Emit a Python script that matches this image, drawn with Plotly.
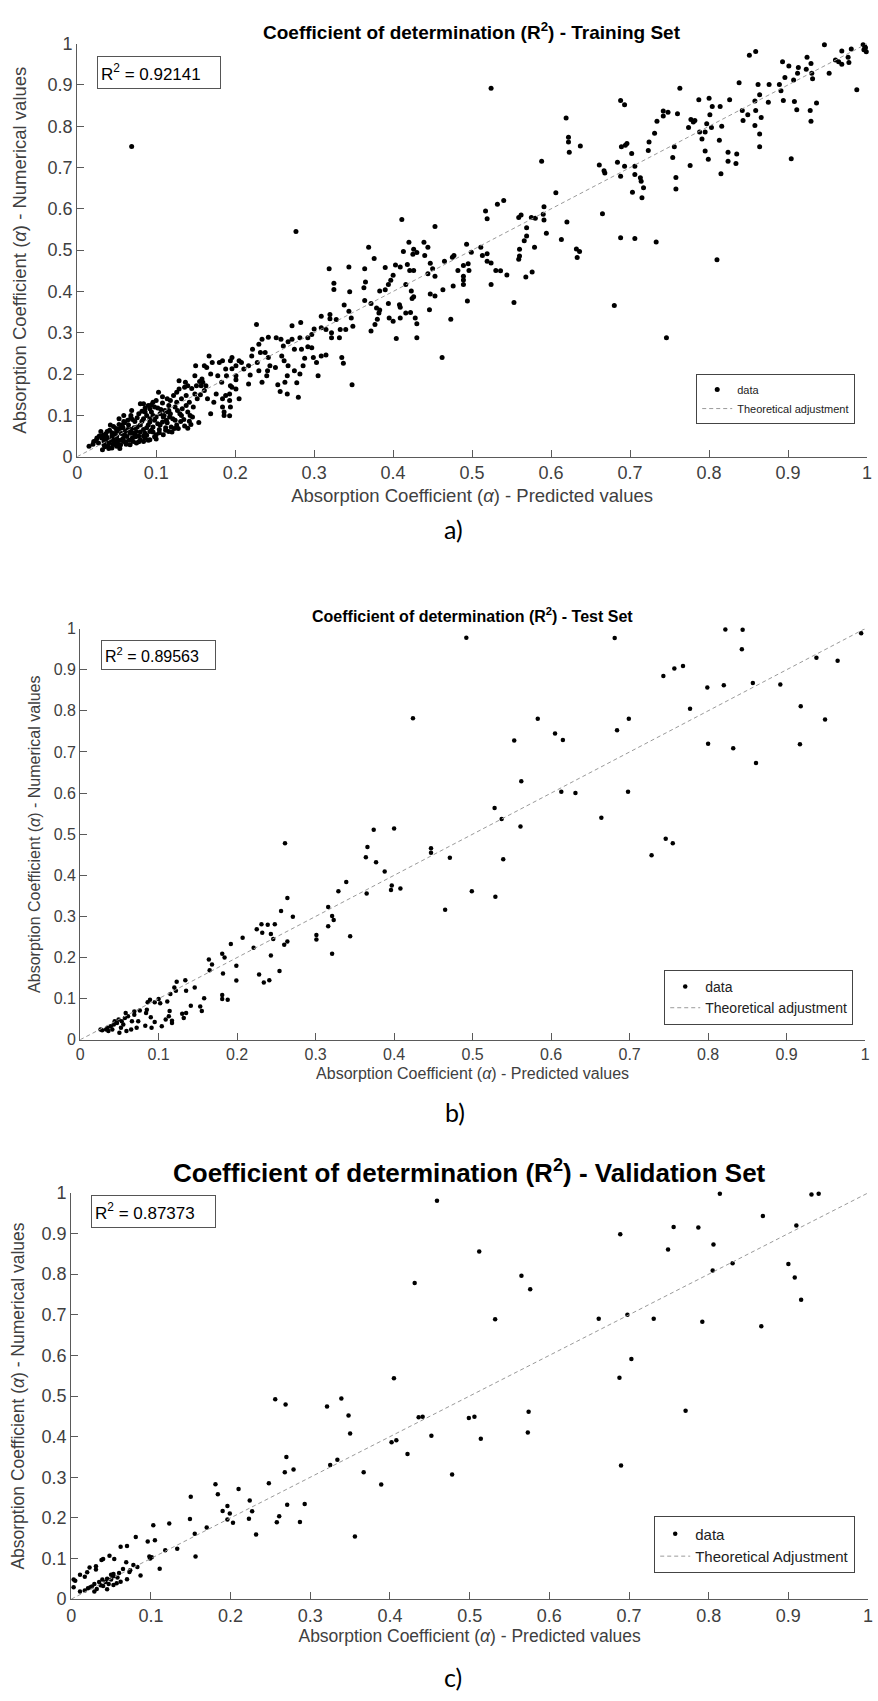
import plotly.graph_objects as go

# ---------------- data (predicted, numerical) ----------------
train_pairs = [
    (0.069,0.751),(0.277,0.545),(0.411,0.574),(0.453,0.557),(0.369,0.507),(0.420,0.519),(0.439,0.519),(0.444,0.507),
    (0.413,0.497),(0.426,0.502),(0.430,0.494),(0.425,0.490),(0.440,0.487),(0.376,0.480),(0.447,0.468),(0.319,0.455),
    (0.344,0.459),(0.364,0.455),(0.390,0.458),(0.403,0.464),(0.409,0.459),(0.418,0.465),(0.421,0.451),(0.426,0.451),
    (0.450,0.455),(0.444,0.443),(0.453,0.437),(0.400,0.439),(0.397,0.427),(0.394,0.417),(0.416,0.417),(0.365,0.423),
    (0.325,0.420),(0.325,0.405),(0.363,0.409),(0.345,0.399),(0.383,0.401),(0.390,0.404),(0.423,0.401),(0.426,0.387),
    (0.424,0.383),(0.447,0.394),(0.453,0.389),(0.364,0.378),(0.372,0.371),(0.338,0.367),(0.394,0.371),(0.408,0.368),
    (0.524,0.892),(0.851,0.972),(0.859,0.981),(0.946,0.997),(0.995,0.997),(0.998,0.990),(0.996,0.985),(0.999,0.980),
    (0.997,0.993),(0.980,0.987),(0.968,0.982),(0.976,0.967),(0.977,0.954),(0.968,0.950),(0.960,0.960),(0.964,0.956),
    (0.952,0.928),(0.987,0.888),(0.893,0.956),(0.901,0.946),(0.913,0.942),(0.924,0.967),(0.929,0.952),(0.923,0.938),
    (0.912,0.928),(0.930,0.928),(0.931,0.915),(0.907,0.912),(0.896,0.918),(0.889,0.901),(0.876,0.901),(0.862,0.901),
    (0.838,0.905),(0.891,0.886),(0.864,0.876),(0.858,0.861),(0.875,0.858),(0.894,0.862),(0.908,0.860),(0.936,0.856),
    (0.911,0.840),(0.928,0.838),(0.929,0.812),(0.859,0.838),(0.849,0.828),(0.842,0.838),(0.843,0.814),(0.866,0.821),
    (0.858,0.802),(0.864,0.781),(0.864,0.750),(0.904,0.721),(0.826,0.864),(0.814,0.848),(0.804,0.848),(0.800,0.868),
    (0.787,0.864),(0.763,0.892),(0.816,0.800),(0.801,0.828),(0.797,0.806),(0.782,0.814),(0.780,0.810),(0.777,0.816),
    (0.774,0.797),(0.788,0.786),(0.795,0.786),(0.791,0.769),(0.803,0.797),(0.813,0.766),(0.795,0.740),(0.799,0.720),
    (0.824,0.737),(0.835,0.733),(0.824,0.715),(0.834,0.710),(0.815,0.685),(0.776,0.705),(0.760,0.830),(0.748,0.834),
    (0.742,0.837),(0.742,0.825),(0.734,0.812),(0.731,0.783),(0.724,0.762),(0.723,0.741),(0.756,0.750),(0.754,0.724),
    (0.758,0.676),(0.758,0.648),(0.688,0.862),(0.693,0.852),(0.696,0.758),(0.694,0.754),(0.689,0.750),(0.702,0.734),
    (0.684,0.713),(0.693,0.703),(0.706,0.703),(0.688,0.679),(0.706,0.683),(0.713,0.675),(0.714,0.667),(0.717,0.651),
    (0.703,0.640),(0.715,0.627),(0.661,0.706),(0.667,0.692),(0.668,0.687),(0.619,0.820),(0.622,0.773),(0.622,0.762),
    (0.623,0.737),(0.637,0.752),(0.588,0.715),(0.606,0.639),(0.665,0.588),(0.688,0.530),(0.706,0.528),(0.733,0.520),
    (0.810,0.477),(0.517,0.595),(0.519,0.576),(0.532,0.611),(0.540,0.620),(0.559,0.579),(0.562,0.585),(0.575,0.579),
    (0.580,0.577),(0.591,0.605),(0.590,0.587),(0.591,0.573),(0.620,0.568),(0.569,0.554),(0.594,0.541),(0.569,0.534),
    (0.566,0.523),(0.560,0.502),(0.560,0.486),(0.559,0.478),(0.579,0.507),(0.613,0.526),(0.632,0.503),(0.636,0.497),
    (0.633,0.482),(0.576,0.447),(0.568,0.435),(0.553,0.373),(0.680,0.366),(0.493,0.514),(0.499,0.495),(0.511,0.507),
    (0.513,0.487),(0.519,0.491),(0.519,0.473),(0.524,0.469),(0.475,0.483),(0.477,0.487),(0.465,0.473),(0.489,0.463),
    (0.495,0.467),(0.482,0.451),(0.496,0.451),(0.530,0.451),(0.536,0.450),(0.544,0.440),(0.489,0.437),(0.489,0.428),
    (0.489,0.417),(0.476,0.413),(0.463,0.404),(0.524,0.417),(0.494,0.377),(0.473,0.333),(0.746,0.288),(0.462,0.240),
    (0.227,0.320),(0.446,0.356),(0.344,0.352),(0.347,0.336),(0.379,0.360),(0.382,0.348),(0.383,0.355),(0.380,0.333),
    (0.377,0.320),(0.372,0.304),(0.395,0.336),(0.400,0.328),(0.409,0.362),(0.409,0.336),(0.416,0.348),(0.422,0.349),
    (0.428,0.336),(0.430,0.322),(0.430,0.288),(0.404,0.286),(0.348,0.174),(0.335,0.240),(0.337,0.226),(0.309,0.340),
    (0.320,0.344),(0.320,0.334),(0.309,0.312),(0.315,0.308),(0.322,0.300),(0.322,0.288),(0.332,0.288),(0.328,0.332),
    (0.333,0.308),(0.340,0.308),(0.349,0.316),(0.300,0.309),(0.297,0.296),(0.292,0.288),(0.283,0.325),(0.272,0.317),
    (0.282,0.288),(0.272,0.284),(0.275,0.260),(0.284,0.260),(0.292,0.266),(0.297,0.264),(0.299,0.240),(0.303,0.228),
    (0.309,0.244),(0.315,0.246),(0.305,0.196),(0.288,0.238),(0.286,0.220),(0.282,0.200),(0.275,0.208),(0.280,0.144),
    (0.278,0.179),(0.267,0.220),(0.266,0.196),(0.263,0.180),(0.266,0.152),(0.257,0.158),(0.254,0.174),(0.251,0.216),
    (0.259,0.244),(0.262,0.232),(0.261,0.268),(0.267,0.278),(0.258,0.284),(0.252,0.288),(0.242,0.289),(0.234,0.284),
    (0.230,0.272),(0.232,0.252),(0.238,0.252),(0.242,0.240),(0.244,0.220),(0.241,0.208),(0.240,0.196),(0.234,0.180),
    (0.230,0.208),(0.228,0.228),(0.222,0.260),(0.221,0.244),(0.219,0.198),(0.217,0.220),(0.217,0.176),(0.211,0.212),
    (0.205,0.232),(0.201,0.220),(0.196,0.240),(0.196,0.213),(0.208,0.228),(0.194,0.232),(0.201,0.196),(0.201,0.186),
    (0.201,0.164),(0.196,0.168),(0.205,0.140),(0.194,0.172),(0.193,0.152),(0.193,0.136),(0.194,0.120),(0.186,0.100),
    (0.193,0.099),(0.186,0.108),(0.184,0.120),(0.184,0.140),(0.188,0.148),(0.183,0.180),(0.178,0.196),(0.171,0.228),
    (0.169,0.200),(0.176,0.152),(0.173,0.132),(0.169,0.104),(0.165,0.140),(0.163,0.172),(0.164,0.216),(0.161,0.220),
    (0.159,0.180),(0.161,0.160),(0.158,0.188),(0.150,0.220),(0.151,0.172),(0.149,0.152),(0.154,0.083),(0.142,0.132),
    (0.146,0.096),(0.142,0.086),(0.140,0.069),(0.137,0.180),(0.136,0.168),(0.138,0.148),(0.140,0.108),(0.130,0.104),
    (0.129,0.184),(0.126,0.156),(0.126,0.132),(0.116,0.124),(0.115,0.108),(0.124,0.088),(0.119,0.072),(0.116,0.061),
    (0.113,0.088),(0.109,0.096),(0.105,0.077),(0.103,0.156),(0.100,0.136),(0.098,0.120),(0.096,0.132),(0.092,0.116),
    (0.090,0.124),(0.084,0.128),(0.080,0.128),(0.092,0.092),(0.096,0.072),(0.092,0.061),(0.100,0.053),(0.086,0.057),
    (0.080,0.077),(0.075,0.061),(0.071,0.037),(0.069,0.112),(0.068,0.100),(0.065,0.077),(0.063,0.049),(0.059,0.100),
    (0.057,0.077),(0.053,0.092),(0.050,0.061),(0.048,0.037),(0.042,0.077),(0.038,0.061),(0.034,0.029),(0.032,0.017),
    (0.025,0.045),(0.021,0.037),(0.015,0.025),(0.030,0.061),(0.038,0.045),(0.044,0.021),(0.050,0.025),(0.059,0.037),
    (0.067,0.029),(0.075,0.033),(0.084,0.037),(0.092,0.041),(0.100,0.043),(0.109,0.053),(0.055,0.029),(0.034,0.037),
    (0.040,0.033),(0.046,0.045),(0.050,0.049),(0.061,0.061),(0.067,0.057),(0.073,0.053),(0.080,0.041),(0.086,0.045),
    (0.055,0.069),(0.059,0.085),(0.046,0.073),(0.073,0.085),(0.084,0.092),(0.090,0.077),(0.098,0.088),(0.105,0.104),
    (0.111,0.112),(0.117,0.096),(0.126,0.077),(0.131,0.085),(0.133,0.116),(0.122,0.148),(0.129,0.164),(0.140,0.172),
    (0.149,0.196),(0.155,0.182),(0.157,0.172),(0.167,0.244),(0.180,0.228),(0.184,0.232),(0.188,0.212),(0.189,0.196),
    (0.028,0.050),(0.036,0.055),(0.044,0.058),(0.052,0.066),(0.058,0.070),(0.064,0.088),(0.070,0.090),(0.078,0.104),
    (0.082,0.110),(0.088,0.100),(0.094,0.108),(0.102,0.118),(0.108,0.130),(0.114,0.140),(0.040,0.020),(0.048,0.030),
    (0.056,0.040),(0.062,0.030),(0.070,0.046),(0.078,0.050),(0.088,0.052),(0.096,0.060),(0.104,0.066),(0.112,0.070),
    (0.120,0.060),(0.128,0.068),(0.136,0.074),(0.144,0.078),(0.036,0.042),(0.044,0.050),(0.052,0.040),(0.060,0.052),
    (0.068,0.066),(0.076,0.072),(0.084,0.066),(0.092,0.084),(0.100,0.096),(0.108,0.084),(0.116,0.112),(0.124,0.120),
    (0.020,0.030),(0.024,0.040),(0.027,0.033),(0.031,0.045),(0.033,0.052),(0.035,0.024),(0.037,0.049),(0.039,0.026),
    (0.041,0.064),(0.043,0.040),(0.045,0.030),(0.047,0.055),(0.049,0.068),(0.051,0.034),(0.053,0.078),(0.054,0.020),
    (0.056,0.056),(0.058,0.044),(0.060,0.082),(0.062,0.036),(0.064,0.066),(0.066,0.040),(0.068,0.094),(0.070,0.058),
    (0.072,0.070),(0.074,0.048),(0.076,0.094),(0.078,0.036),(0.080,0.060),(0.082,0.086),(0.084,0.050),(0.086,0.108),
    (0.088,0.070),(0.090,0.040),(0.094,0.064),(0.096,0.100),(0.098,0.048),(0.102,0.080),(0.104,0.058),(0.106,0.114),
    (0.110,0.100),(0.112,0.064),(0.114,0.082),(0.118,0.104),(0.121,0.092),(0.123,0.068),(0.127,0.112),(0.132,0.100),
    (0.135,0.090),(0.138,0.124),(0.143,0.100),(0.147,0.120),(0.152,0.140),(0.156,0.150),(0.145,0.165),(0.132,0.140),
    (0.118,0.136),(0.108,0.145),(0.094,0.126),(0.086,0.118),
]

test_pairs = [
    (0.261,0.478),(0.424,0.782),(0.374,0.511),(0.400,0.514),(0.366,0.469),(0.364,0.444),(0.447,0.466),(0.447,0.455),
    (0.492,0.978),(0.681,0.977),(0.822,0.998),(0.844,0.997),(0.843,0.950),(0.995,0.989),(0.938,0.929),(0.965,0.922),
    (0.743,0.885),(0.757,0.903),(0.768,0.909),(0.799,0.857),(0.820,0.862),(0.857,0.868),(0.892,0.864),(0.777,0.805),
    (0.918,0.811),(0.949,0.779),(0.583,0.781),(0.699,0.781),(0.684,0.753),(0.553,0.728),(0.605,0.745),(0.615,0.729),
    (0.800,0.720),(0.832,0.709),(0.917,0.719),(0.861,0.673),(0.562,0.629),(0.613,0.603),(0.631,0.600),(0.698,0.603),
    (0.528,0.564),(0.537,0.537),(0.561,0.519),(0.664,0.540),(0.746,0.489),(0.755,0.478),(0.728,0.449),(0.471,0.443),
    (0.539,0.439),(0.499,0.361),(0.529,0.348),(0.465,0.316),
    (0.377,0.432),(0.388,0.409),(0.339,0.384),(0.329,0.361),(0.365,0.356),(0.397,0.375),(0.396,0.364),(0.408,0.368),
    (0.316,0.323),(0.321,0.301),(0.323,0.291),(0.316,0.276),(0.301,0.255),(0.301,0.244),(0.344,0.252),(0.321,0.209),
    (0.264,0.345),(0.256,0.313),(0.271,0.299),(0.231,0.281),(0.239,0.280),(0.248,0.281),(0.225,0.269),(0.243,0.257),
    (0.232,0.260),(0.246,0.245),(0.207,0.248),(0.221,0.224),(0.192,0.233),(0.264,0.239),(0.260,0.231),(0.243,0.205),
    (0.164,0.195),(0.181,0.209),(0.184,0.200),(0.168,0.183),(0.199,0.180),(0.165,0.169),(0.182,0.161),(0.228,0.159),
    (0.254,0.167),(0.241,0.145),(0.234,0.139),(0.199,0.144),(0.134,0.145),(0.123,0.141),(0.135,0.119),(0.146,0.127),
    (0.120,0.127),(0.122,0.119),(0.115,0.111),(0.158,0.101),(0.181,0.109),(0.181,0.099),(0.188,0.097),(0.100,0.099),
    (0.111,0.093),(0.089,0.097),(0.086,0.091),(0.095,0.091),(0.102,0.089),(0.141,0.083),(0.153,0.081),(0.155,0.070),
    (0.114,0.070),(0.130,0.063),(0.135,0.065),(0.132,0.053),(0.113,0.057),(0.109,0.049),(0.117,0.046),(0.117,0.041),
    (0.104,0.033),(0.095,0.043),(0.090,0.055),(0.091,0.029),(0.085,0.073),(0.084,0.065),(0.076,0.071),(0.069,0.069),
    (0.069,0.061),(0.074,0.045),(0.072,0.029),(0.083,0.034),(0.058,0.065),(0.061,0.057),(0.057,0.053),(0.053,0.045),
    (0.049,0.049),(0.047,0.041),(0.052,0.029),(0.059,0.021),(0.050,0.017),(0.065,0.025),(0.043,0.037),(0.039,0.033),
    (0.035,0.029),(0.036,0.021),(0.044,0.045),(0.041,0.025),(0.033,0.025),(0.028,0.023),(0.026,0.025),(0.055,0.037),
    (0.066,0.045),
]

val_pairs = [
    (0.459,0.981),(0.431,0.778),(0.405,0.544),(0.256,0.492),(0.269,0.479),(0.321,0.474),(0.339,0.494),(0.348,0.452),
    (0.436,0.448),(0.441,0.449),(0.814,0.998),(0.929,0.996),(0.938,0.998),(0.868,0.943),(0.910,0.920),(0.756,0.916),
    (0.787,0.915),(0.689,0.898),(0.512,0.856),(0.806,0.873),(0.749,0.861),(0.830,0.827),(0.805,0.809),(0.900,0.825),
    (0.908,0.792),(0.916,0.737),(0.565,0.796),(0.576,0.763),(0.532,0.689),(0.662,0.690),(0.698,0.700),(0.731,0.690),
    (0.792,0.683),(0.866,0.672),(0.703,0.591),(0.688,0.545),(0.574,0.461),(0.771,0.464),(0.499,0.446),(0.506,0.449),
    (0.573,0.410),(0.514,0.395),(0.478,0.307),(0.690,0.329),
    (0.350,0.408),(0.452,0.402),(0.402,0.386),(0.408,0.391),(0.422,0.357),(0.367,0.312),(0.389,0.282),(0.334,0.343),
    (0.325,0.330),(0.356,0.154),(0.270,0.350),(0.268,0.312),(0.279,0.319),(0.248,0.285),(0.271,0.232),(0.293,0.234),
    (0.261,0.204),(0.258,0.189),(0.287,0.190),(0.232,0.159),(0.224,0.243),(0.227,0.216),(0.223,0.198),(0.210,0.271),
    (0.181,0.283),(0.184,0.258),(0.196,0.229),(0.190,0.217),(0.199,0.211),(0.196,0.196),(0.203,0.188),(0.170,0.176),
    (0.150,0.252),(0.149,0.197),(0.155,0.161),(0.156,0.105),(0.123,0.186),(0.133,0.124),(0.118,0.120),(0.111,0.075),
    (0.103,0.182),(0.105,0.145),(0.096,0.142),(0.098,0.105),(0.101,0.103),(0.099,0.100),(0.081,0.153),(0.070,0.131),
    (0.062,0.129),(0.078,0.084),(0.083,0.079),(0.087,0.058),(0.069,0.091),(0.074,0.071),(0.073,0.067),(0.070,0.049),
    (0.065,0.074),(0.054,0.099),(0.048,0.107),(0.040,0.099),(0.038,0.096),(0.031,0.081),(0.031,0.073),(0.023,0.078),
    (0.020,0.066),(0.017,0.055),(0.011,0.060),(0.005,0.045),(0.003,0.048),(0.003,0.029),(0.011,0.019),(0.017,0.021),
    (0.024,0.029),(0.029,0.019),(0.032,0.025),(0.037,0.034),(0.040,0.032),(0.043,0.042),(0.047,0.037),(0.050,0.048),
    (0.053,0.056),(0.058,0.053),(0.060,0.064),(0.053,0.062),(0.050,0.060),(0.045,0.050),(0.039,0.048),(0.035,0.042),
    (0.029,0.037),(0.026,0.031),(0.021,0.027),(0.045,0.024),(0.053,0.035),(0.057,0.039),(0.062,0.043),
]

ideal_line = [0, 1]
tick_vals = [0, 0.1, 0.2, 0.3, 0.4, 0.5, 0.6, 0.7, 0.8, 0.9, 1]
tick_text = ["0", "0.1", "0.2", "0.3", "0.4", "0.5", "0.6", "0.7", "0.8", "0.9", "1"]

set_names = ["Training Set", "Test Set", "Validation Set"]
r2_values = ["0.92141", "0.89563", "0.87373"]
line_names = ["Theoretical adjustment", "Theoretical adjustment", "Theoretical Adjustment"]
panel_labels = ["a)", "b)", "c)"]

# ---------------- layout geometry (pixels in 878x1701 page) ----------------
W, H = 878, 1701
FONT = "Liberation Sans, Arial, sans-serif"

panels = [
    dict(pairs=train_pairs, left=73, right=872, top=34, bottom=452, title_y=21, title_size=19,
         tick_size=18, label_size=18.5, x_standoff=6, y_standoff=16, msize=5,
         box=dict(l=93, t=47, w=124, h=33, fs=17),
         leg=dict(r=860, b=419, fs=11), lab=(454, 525)),
    dict(pairs=test_pairs, left=76, right=870, top=626, bottom=1042, title_y=612, title_size=16,
         tick_size=16, label_size=16, x_standoff=5, y_standoff=9, msize=4.5,
         box=dict(l=97, t=637, w=115, h=30, fs=16),
         leg=dict(r=858, b=1027, fs=14), lab=(455, 1115)),
    dict(pairs=val_pairs, left=67, right=873, top=1197, bottom=1608, title_y=1175, title_size=26,
         tick_size=18, label_size=17.5, x_standoff=4, y_standoff=12, msize=4.5,
         box=dict(l=87, t=1199, w=125, h=33, fs=17),
         leg=dict(r=860, b=1582, fs=15), lab=(453, 1687)),
]

fig = go.Figure()
layout = dict(width=W, height=H, margin=dict(l=0, r=0, t=0, b=0),
              paper_bgcolor="white", plot_bgcolor="white", showlegend=True,
              font=dict(family=FONT, color="#404040"))
annotations = []

for i, p in enumerate(panels):
    n = "" if i == 0 else str(i + 1)
    xa, ya = "x" + n, "y" + n
    leg_name = "legend" + n
    xs = [q[0] for q in p["pairs"]]
    ys = [q[1] for q in p["pairs"]]

    fig.add_trace(go.Scatter(x=xs, y=ys, mode="markers", name="data",
                             marker=dict(color="black", size=p["msize"]),
                             xaxis=xa, yaxis=ya, legend=leg_name, cliponaxis=False))
    fig.add_trace(go.Scatter(x=ideal_line, y=ideal_line, mode="lines", name=line_names[i],
                             line=dict(color="#9a9a9a", width=1, dash="4px,3px"),
                             xaxis=xa, yaxis=ya, legend=leg_name))

    common = dict(range=[0, 1], showgrid=False, zeroline=False, showline=True,
                  linecolor="#5a5a5a", linewidth=1, ticks="inside", ticklen=7,
                  tickcolor="#5a5a5a", tickwidth=1, tickvals=tick_vals, ticktext=tick_text,
                  tickfont=dict(family=FONT, size=p["tick_size"], color="#404040"),
                  fixedrange=True)
    xdom = [p["left"] / W, p["right"] / W]
    ydom = [1 - p["bottom"] / H, 1 - p["top"] / H]
    layout["xaxis" + n] = dict(common, domain=xdom, anchor=ya,
                               title=dict(text="Absorption Coefficient (<i>α</i>) - Predicted values",
                                          font=dict(family=FONT, size=p["label_size"], color="#404040"),
                                          standoff=p["x_standoff"]))
    layout["yaxis" + n] = dict(common, domain=ydom, anchor=xa,
                               title=dict(text="Absorption Coefficient (<i>α</i>) - Numerical values",
                                          font=dict(family=FONT, size=p["label_size"], color="#404040"),
                                          standoff=p["y_standoff"]))

    lg = p["leg"]
    layout[leg_name] = dict(x=lg["r"] / W, y=1 - lg["b"] / H, xanchor="right", yanchor="bottom",
                            bgcolor="white", bordercolor="#444", borderwidth=1,
                            font=dict(family=FONT, size=lg["fs"], color="#222"),
                            itemwidth=30, tracegroupgap=0)

    # chart title
    annotations.append(dict(text="<b>Coefficient of determination (R<sup>2</sup>) - " + set_names[i] + "</b>",
                            xref="paper", yref="paper", x=(p["left"] + p["right"]) / 2 / W,
                            y=1 - p["title_y"] / H, xanchor="center", yanchor="middle",
                            showarrow=False, font=dict(family=FONT, size=p["title_size"], color="black")))
    # R^2 box
    b = p["box"]
    annotations.append(dict(text="R<sup>2</sup> = " + r2_values[i],
                            xref="paper", yref="paper", x=b["l"] / W, y=1 - b["t"] / H,
                            xanchor="left", yanchor="top", showarrow=False, align="left",
                            width=b["w"] - 8, height=b["h"] - 8, borderpad=3,
                            bordercolor="#555", borderwidth=1, bgcolor="white",
                            font=dict(family=FONT, size=b["fs"], color="black")))
    # panel label
    annotations.append(dict(text=panel_labels[i], xref="paper", yref="paper",
                            x=p["lab"][0] / W, y=1 - p["lab"][1] / H, xanchor="center", yanchor="middle",
                            showarrow=False, font=dict(family="Lato, Open Sans, sans-serif", size=25, color="black")))

layout["annotations"] = annotations
fig.update_layout(**layout)
fig.write_html("out.html")
